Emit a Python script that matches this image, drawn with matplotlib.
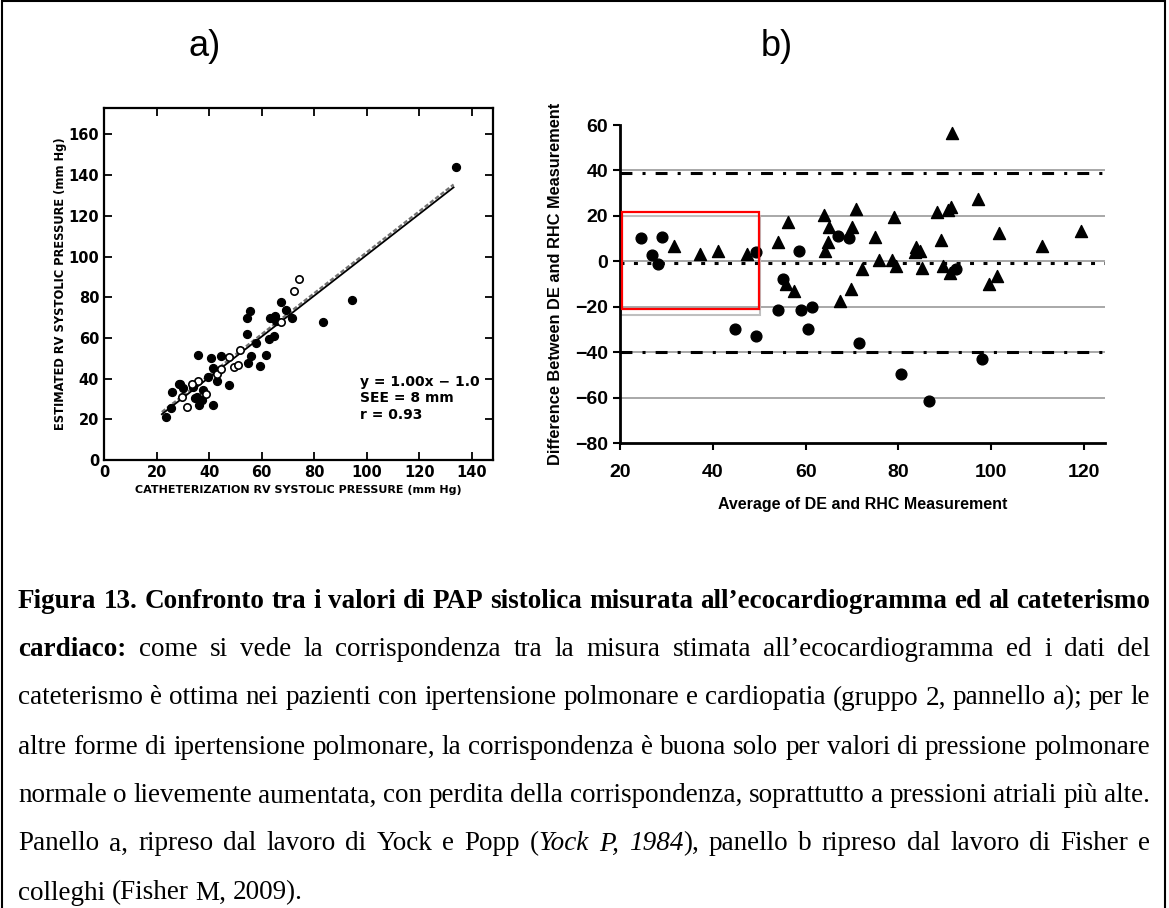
import matplotlib
matplotlib.use("Agg")
import matplotlib.pyplot as plt
from matplotlib.patches import Rectangle

# ---- panel a data (Yock & Popp) ----
a_filled_x = [23.6, 25.4, 25.8, 28.7, 30.2, 33.8, 35.9, 35.3, 36.3, 37.8, 37.2, 39.7, 40.6, 41.6,
              41.6, 42.9, 44.6, 47.4, 54.4, 54.4, 55.6, 54.7, 56.0, 57.9, 59.4, 61.6, 62.6, 64.5,
              63.2, 65.1, 65.5, 67.3, 69.3, 71.5, 83.3, 94.3, 134.1, 34.5, 43.5, 29.0]
a_filled_y = [21.3, 25.5, 33.6, 37.4, 35.3, 36.1, 51.7, 31.2, 27.1, 34.5, 29.5, 41.0, 50.1, 27.1,
              45.2, 38.6, 50.9, 36.9, 62.1, 69.8, 73.1, 47.9, 51.2, 57.5, 46.0, 51.4, 59.4, 61.1,
              69.8, 70.9, 68.1, 77.5, 73.9, 69.8, 67.6, 78.5, 144.2, 30.4, 43.5, 37.3]
a_open_x = [29.6, 31.7, 35.9, 38.8, 42.9, 47.4, 49.3, 50.8, 51.8, 67.3, 72.1, 74.0, 33.5, 44.5]
a_open_y = [31.2, 26.0, 38.6, 32.3, 42.4, 50.6, 45.7, 46.8, 54.2, 67.6, 82.9, 89.0, 37.5, 44.5]
a_fit_x = [22, 133]
a_fit_y = [22.5, 134.0]
a_fit2_y = [23.6, 135.4]

# ---- panel b data (Fisher) ----
b_circ_x = [24.5, 26.8, 28.2, 29.1, 49.2, 44.7, 49.4, 58.6, 55.1, 54.0, 58.9, 61.3, 60.6, 71.4,
            66.9, 69.3, 92.4, 98.0, 80.6, 86.5]
b_circ_y = [10.1, 2.8, -1.0, 10.8, 3.9, -29.9, -32.7, 4.6, -8.0, -21.3, -21.3, -20.1, -29.8, -36.1,
            11.3, 10.1, -3.3, -43.1, -49.8, -61.3]
b_tri_x = [31.6, 37.3, 41.1, 47.4, 54.0, 56.3, 55.8, 57.5, 63.9, 65.0, 64.9, 64.2, 70.0, 70.8,
           67.3, 69.8, 72.2, 74.9, 75.7, 78.6, 79.5, 79.0, 83.8, 83.6, 84.7, 85.1, 89.1, 88.4,
           90.6, 91.3, 89.5, 91.0, 97.1, 91.5, 101.6, 110.9, 119.3, 101.2, 99.4]
b_tri_y = [6.8, 3.1, 4.6, 3.1, 8.6, 17.2, -10.2, -13.2, 20.4, 15.0, 8.3, 4.6, 15.0, 22.8,
           -17.3, -12.0, -3.3, 10.8, 0.4, 0.6, -2.1, 19.4, 6.5, 3.9, 4.6, -2.8, 9.5, 21.6,
           22.4, 23.9, -2.1, -5.0, 27.3, 56.4, 12.4, 6.8, 13.5, -6.5, -10.2]
b_grid = [40, 20, 0, -20, -40, -60]
b_limits = [39, -40]
b_bias = -0.8

caption_lines = [
    [("Figura 13. Confronto tra i valori di PAP sistolica misurata all’ecocardiogramma ed al cateterismo", "bold")],
    [("cardiaco:", "bold"), (" come si vede la corrispondenza tra la misura stimata all’ecocardiogramma ed i dati del", "normal")],
    [("cateterismo è ottima nei pazienti con ipertensione polmonare e cardiopatia (gruppo 2, pannello a); per le", "normal")],
    [("altre forme di ipertensione polmonare, la corrispondenza è buona solo per valori di pressione polmonare", "normal")],
    [("normale o lievemente aumentata, con perdita della corrispondenza, soprattutto a pressioni atriali più alte.", "normal")],
    [("Panello a, ripreso dal lavoro di Yock e Popp (", "normal"), ("Yock P, 1984", "italic"),
     ("), panello b ripreso dal lavoro di Fisher e", "normal")],
    [("colleghi (Fisher M, 2009).", "normal")],
]

W, H = 1169, 908
fig = plt.figure(figsize=(W / 100, H / 100), dpi=100)
fig.patches.append(Rectangle((0.002, -0.01), 0.995, 1.0085, transform=fig.transFigure,
                             fill=False, edgecolor="black", lw=1.5))

fig.text(205 / W, 1 - 47 / H, "a)", fontsize=26, ha="center", va="center", family="Liberation Sans")
fig.text(777 / W, 1 - 47 / H, "b)", fontsize=26, ha="center", va="center", family="Liberation Sans")

# ---- panel a ----
ax1 = fig.add_axes([104 / W, 1 - 460 / H, 389 / W, 352 / H])
ax1.plot(a_fit_x, a_fit2_y, color="0.45", lw=1.6, ls=(0, (2, 1)))
ax1.plot(a_fit_x, a_fit_y, color="black", lw=1.3)
ax1.scatter(a_filled_x, a_filled_y, s=32, color="black", zorder=3)
ax1.scatter(a_open_x, a_open_y, s=28, facecolor="white", edgecolor="black", lw=1.2, zorder=3)
ax1.set_xlim(0, 148)
ax1.set_ylim(0, 173)
ax1.set_xticks(range(0, 141, 20))
ax1.set_yticks(range(0, 161, 20))
ax1.tick_params(direction="in", top=True, right=True, length=6, width=1.3, labelsize=10.5)
for lab in ax1.get_xticklabels() + ax1.get_yticklabels():
    lab.set_fontweight("bold")
for sp in ax1.spines.values():
    sp.set_linewidth(1.6)
ax1.set_xlabel("CATHETERIZATION RV SYSTOLIC PRESSURE (mm Hg)", fontsize=8, fontweight="bold", labelpad=4)
ax1.set_ylabel("ESTIMATED RV SYSTOLIC PRESSURE (mm Hg)", fontsize=8.3, fontweight="bold", labelpad=1)
ax1.text(97.5, 42, "y = 1.00x − 1.0\nSEE = 8 mm\nr = 0.93", fontsize=10, fontweight="bold",
         va="top", ha="left", linespacing=1.25)

# ---- panel b ----
ax2 = fig.add_axes([620 / W, 1 - 443 / H, 485 / W, 318 / H])
for g in b_grid:
    ax2.axhline(g, color="0.6", lw=1.2, zorder=1)
for lim in b_limits:
    ax2.axhline(lim, color="black", lw=2.2, ls=(0, (3.9, 3.3, 1, 3.3)), zorder=2)
ax2.axhline(b_bias, color="black", lw=2.2, ls=(0, (1.3, 3.1)), zorder=2)
ax2.add_patch(Rectangle((20.2, -23.5), 30.0, 43.5, fill=False, edgecolor="0.75", lw=1.5, zorder=2))
ax2.add_patch(Rectangle((20.5, -20.9), 29.5, 42.8, fill=False, edgecolor="red", lw=1.6, zorder=4,
                        clip_on=False))
ax2.scatter(b_circ_x, b_circ_y, s=60, marker="o", color="black", zorder=3)
ax2.scatter(b_tri_x, b_tri_y, s=75, marker="^", color="black", zorder=3)
ax2.set_xlim(20, 124.5)
ax2.set_ylim(-80, 60)
ax2.set_xticks(range(20, 121, 20))
ax2.set_yticks(range(-80, 61, 20))
ax2.spines["top"].set_visible(False)
ax2.spines["right"].set_visible(False)
for sp in ("left", "bottom"):
    ax2.spines[sp].set_linewidth(2)
ax2.tick_params(direction="out", length=5, width=1.5, labelsize=14)
ax2.tick_params(axis="x", pad=10)
for lab in ax2.get_xticklabels() + ax2.get_yticklabels():
    lab.set_fontweight("bold")
    lab.set_family("Liberation Sans")
ax2.set_xlabel("Average of DE and RHC Measurement", fontsize=11.5, fontweight="bold",
               family="Liberation Sans", labelpad=12)
ax2.set_ylabel("Difference Between DE and RHC Measurement", fontsize=11.8, fontweight="bold",
               family="Liberation Sans", labelpad=9)

# ---- justified caption ----
cap_size = 19.5
left_px, right_px = 18, 1150
line_y = [601, 650, 698, 747, 796, 844, 893]
renderer = fig.canvas.get_renderer()

def style_kw(style):
    if style == "bold":
        return dict(fontweight="bold")
    if style == "italic":
        return dict(fontstyle="italic")
    return {}

def piece_width(txt, style):
    t = fig.text(0, 0, txt, fontsize=cap_size, family="Liberation Serif", **style_kw(style))
    w = t.get_window_extent(renderer).width
    t.remove()
    return w

space_w = piece_width("x x", "normal") - piece_width("xx", "normal")

for li, segs in enumerate(caption_lines):
    words = []
    prev_space = True
    for text, style in segs:
        parts = text.split(" ")
        for i, p in enumerate(parts):
            if p == "":
                continue
            if i == 0 and not prev_space and words:
                words[-1].append((p, style))
            else:
                words.append([(p, style)])
        prev_space = text.endswith(" ")
    widths = [[piece_width(p, s) for p, s in w] for w in words]
    total = sum(sum(ws) for ws in widths)
    if li < len(caption_lines) - 1 and len(words) > 1:
        gap = (right_px - left_px - total) / (len(words) - 1)
    else:
        gap = space_w
    x = left_px
    for w, ws in zip(words, widths):
        for (p, s), pw in zip(w, ws):
            fig.text(x / W, 1 - line_y[li] / H, p, fontsize=cap_size, family="Liberation Serif",
                     va="center", ha="left", **style_kw(s))
            x += pw
        x += gap

fig.savefig("out.png", dpi=100)
